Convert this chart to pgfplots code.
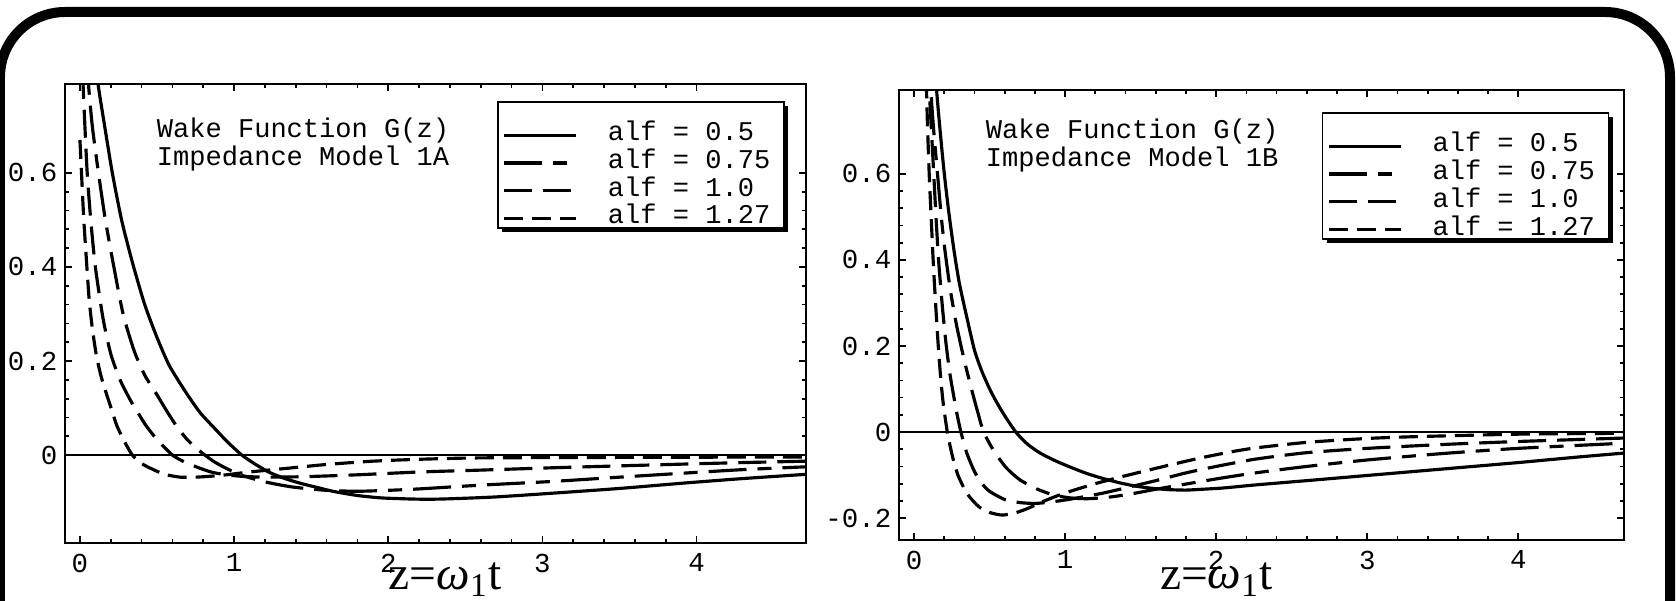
\documentclass[border=0pt]{standalone}
\usepackage{fontspec}
\setmainfont{Liberation Serif}
\setmonofont{Liberation Mono}
\usepackage{pgfplots}
\pgfplotsset{compat=1.18}
\usetikzlibrary{shadows}

\newcommand\cour{\fontsize{7.7}{8}\selectfont\ttfamily}
\newcommand\tickf{\fontsize{7.8}{8}\selectfont\ttfamily}
\newcommand\lent[1]{\makebox[17.0mm][l]{\raisebox{-1.2mm}[0pt][0pt]{#1}}}

\makeatletter
\tikzset{no preactions/.code={\let\tikz@preactions\pgfutil@empty}}
\makeatother

\tikzset{
  a05/.style={solid},
  a075/.style={dash pattern=on 3.8mm off 1.1mm on 1.4mm off 1.1mm},
  a10/.style={dash pattern=on 2.8mm off 1.1mm},
  a127/.style={dash pattern=on 1.9mm off 0.9mm},
}

\pgfplotsset{
  wake/.style={
    scale only axis,
    axis line style={line width=0.6pt},
    tick style={black, line width=0.5pt},
    major tick length=0.7mm, minor tick length=0.4mm,
    tick align=inside,
    xtick={0,1,2,3,4}, xticklabels={0,1,2,3,4},
    minor x tick num=4, minor y tick num=4,
    ticklabel style={font=\tickf, inner sep=0pt},
    xticklabel style={yshift=-1mm},
    yticklabel style={xshift=-0.7mm},
    xlabel style={font=\fontsize{13.5}{16}\selectfont, anchor=base},
    legend cell align=left,
    legend image code/.code={\path[no preactions, draw=none] (0mm,0mm) -- (7.2mm,0mm);
      \draw[no preactions, overlay, ##1] (0mm,-1.2mm) -- (7.2mm,-1.2mm);},
    legend style={anchor=north west, draw=black, line width=0.5pt, fill=white,
      inner xsep=0.6mm, inner ysep=0.75mm, font=\cour, row sep=0pt,
      nodes={inner sep=0pt, text height=1.95mm, text depth=0.82mm},
      /tikz/every odd column/.append style={column sep=3.2mm},
      drop shadow={shadow xshift=0.45mm, shadow yshift=-0.45mm, fill=black, opacity=1}},
    every axis plot/.append style={black, line width=0.9pt, smooth, tension=0.4},
  },
}

\begin{document}
\begin{tikzpicture}
\useasboundingbox (0,0) rectangle (16.76,6);
\begin{scope}
  \clip (0,0) rectangle (16.76,6);
  \draw[line width=1mm, rounded corners=6.5mm] (0,-1) rectangle (16.70,5.88);
\end{scope}

% Model 1A
\begin{axis}[wake, at={(0.65cm,0.57cm)}, anchor=south west,
    width=7.41cm, height=4.59cm,
    xmin=-0.097, xmax=4.71, ymin=-0.187, ymax=0.789,
    ytick={0,0.2,0.4,0.6}, yticklabels={0,0.2,0.4,0.6},
    xlabel={z=\textit{ω}\textsubscript{1}t},
    xlabel style={at={(axis description cs:0.513,0)}, yshift=-4.6mm},
    legend style={at={(axis description cs:0.583,0.963)}}]
\addplot[line width=0.6pt, forget plot, sharp plot] coordinates {(-0.2,0) (4.8,0)};
\addplot[a05] coordinates {
 (0.10,0.86) (0.117,0.79) (0.16,0.70) (0.21,0.60) (0.27,0.50) (0.34,0.41)
 (0.42,0.32) (0.50,0.25) (0.58,0.19) (0.69,0.132) (0.78,0.09) (0.87,0.058)
 (0.96,0.027) (1.05,0) (1.14,-0.02) (1.23,-0.037) (1.33,-0.05) (1.43,-0.06)
 (1.54,-0.069) (1.64,-0.077) (1.80,-0.086) (1.95,-0.091) (2.10,-0.093)
 (2.25,-0.094) (2.40,-0.093) (2.70,-0.089) (3.07,-0.081) (3.50,-0.071)
 (3.94,-0.059) (4.30,-0.05) (4.71,-0.041)};
\addlegendentry{\lent{alf = 0.5}}
\addplot[a075] coordinates {
 (0.035,0.90) (0.055,0.79) (0.08,0.70) (0.12,0.60) (0.165,0.50) (0.22,0.40)
 (0.28,0.30) (0.35,0.223) (0.42,0.17) (0.50,0.128) (0.57,0.09) (0.63,0.06)
 (0.69,0.035) (0.75,0.016) (0.81,0) (0.87,-0.014) (0.93,-0.025) (1.04,-0.042)
 (1.2,-0.057) (1.38,-0.068) (1.6,-0.075) (1.8,-0.077) (2.0,-0.075)
 (2.2,-0.072) (2.6,-0.064) (3.07,-0.056) (3.5,-0.047) (3.94,-0.038)
 (4.3,-0.031) (4.71,-0.025)};
\addlegendentry{\lent{alf = 0.75}}
\addplot[a10] coordinates {
 (0.008,0.90) (0.02,0.79) (0.032,0.70) (0.047,0.60) (0.07,0.50) (0.10,0.40)
 (0.15,0.29) (0.2,0.215) (0.26,0.160) (0.325,0.118) (0.38,0.088) (0.43,0.062)
 (0.5,0.033) (0.6,0) (0.68,-0.015) (0.77,-0.027) (0.85,-0.036) (0.93,-0.041)
 (1.04,-0.045) (1.2,-0.047) (1.45,-0.046) (1.8,-0.042) (2.2,-0.036)
 (2.6,-0.032) (3.07,-0.027) (3.5,-0.023) (3.94,-0.019) (4.3,-0.016)
 (4.71,-0.013)};
\addlegendentry{\lent{alf = 1.0}}
\addplot[a127] coordinates {
 (0,0.67) (0.01,0.60) (0.025,0.50) (0.045,0.40) (0.06,0.33) (0.08,0.27)
 (0.105,0.215) (0.135,0.17) (0.17,0.132) (0.205,0.097) (0.24,0.062)
 (0.29,0.028) (0.34,0) (0.40,-0.018) (0.47,-0.030) (0.55,-0.041)
 (0.65,-0.047) (0.75,-0.047) (0.85,-0.045) (0.95,-0.042) (1.1,-0.036)
 (1.35,-0.028) (1.6,-0.02) (1.9,-0.013) (2.2,-0.009) (2.6,-0.006)
 (3.5,-0.005) (4.71,-0.004)};
\addlegendentry{\lent{alf = 1.27}}
\node[font=\cour, align=left, anchor=west, inner sep=0pt]
  at (rel axis cs:0.123,0.869) {Wake Function G(z)\\Impedance Model 1A};
\end{axis}

% Model 1B
\begin{axis}[wake, at={(8.99cm,0.60cm)}, anchor=south west,
    width=7.25cm, height=4.50cm,
    xmin=-0.1, xmax=4.70, ymin=-0.251, ymax=0.795,
    ytick={-0.2,0,0.2,0.4,0.6}, yticklabels={-0.2,0,0.2,0.4,0.6},
    xlabel={z=\textit{ω}\textsubscript{1}t},
    xlabel style={at={(axis description cs:0.438,0)}, yshift=-4.9mm},
    legend style={at={(axis description cs:0.583,0.951)}}]
\addplot[line width=0.6pt, forget plot, sharp plot] coordinates {(-0.2,0) (4.8,0)};
\addplot[a05] coordinates {
 (0.13,0.90) (0.15,0.79) (0.175,0.69) (0.2,0.60) (0.23,0.51) (0.265,0.42)
 (0.3,0.345) (0.35,0.265) (0.40,0.19) (0.45,0.14) (0.51,0.093) (0.57,0.055)
 (0.62,0.027) (0.68,-0.003) (0.75,-0.028) (0.83,-0.048) (0.93,-0.066)
 (1.03,-0.081) (1.14,-0.096) (1.25,-0.108) (1.36,-0.118) (1.47,-0.126)
 (1.58,-0.131) (1.69,-0.134) (1.8,-0.135) (1.91,-0.133) (2.05,-0.13)
 (2.26,-0.123) (2.6,-0.113) (3.0,-0.101) (3.5,-0.086) (4.0,-0.071)
 (4.4,-0.058) (4.7,-0.049)};
\addlegendentry{\lent{alf = 0.5}}
\addplot[a075] coordinates {
 (0.095,0.95) (0.11,0.8) (0.13,0.7) (0.155,0.6) (0.18,0.5) (0.205,0.42)
 (0.24,0.33) (0.28,0.25) (0.33,0.17) (0.38,0.1) (0.42,0.048) (0.46,0)
 (0.53,-0.045) (0.61,-0.083) (0.7,-0.111) (0.81,-0.132) (0.92,-0.146)
 (1.03,-0.153) (1.15,-0.155) (1.3,-0.151) (1.45,-0.143) (1.6,-0.133)
 (1.75,-0.124) (2.0,-0.109) (2.26,-0.095) (2.6,-0.08) (3.0,-0.065)
 (3.5,-0.05) (4.0,-0.038) (4.7,-0.026)};
\addlegendentry{\lent{alf = 0.75}}
\addplot[a10] coordinates {
 (0.085,0.95) (0.1,0.8) (0.115,0.7) (0.13,0.6) (0.145,0.5) (0.162,0.4)
 (0.185,0.3) (0.21,0.21) (0.235,0.14) (0.26,0.088) (0.285,0.04) (0.31,0)
 (0.35,-0.05) (0.4,-0.092) (0.45,-0.12) (0.5,-0.138) (0.6,-0.157)
 (0.7,-0.164) (0.8,-0.166) (0.9,-0.163) (1.0,-0.158) (1.1,-0.152)
 (1.25,-0.142) (1.4,-0.130) (1.6,-0.113) (1.8,-0.095) (2.0,-0.08)
 (2.26,-0.063) (2.6,-0.048) (3.0,-0.038) (3.5,-0.029) (4.0,-0.022) (4.7,-0.014)};
\addlegendentry{\lent{alf = 1.0}}
\addplot[a127] coordinates {
 (0.07,0.95) (0.078,0.85) (0.088,0.72) (0.1,0.6) (0.113,0.5) (0.126,0.4)
 (0.142,0.3) (0.16,0.2) (0.175,0.13) (0.19,0.075) (0.205,0.035) (0.22,0)
 (0.24,-0.035) (0.26,-0.065) (0.29,-0.1) (0.33,-0.13) (0.37,-0.152)
 (0.43,-0.174) (0.5,-0.187) (0.58,-0.193) (0.66,-0.189) (0.75,-0.178)
 (0.85,-0.162) (0.95,-0.148) (1.05,-0.136) (1.2,-0.12) (1.35,-0.106)
 (1.5,-0.093) (1.7,-0.076) (1.9,-0.06) (2.1,-0.046) (2.26,-0.037)
 (2.6,-0.024) (3.0,-0.015) (3.3,-0.011) (4.0,-0.005) (4.7,-0.003)};
\addlegendentry{\lent{alf = 1.27}}
\node[font=\cour, align=left, anchor=west, inner sep=0pt]
  at (rel axis cs:0.119,0.876) {Wake Function G(z)\\Impedance Model 1B};
\end{axis}
\end{tikzpicture}
\end{document}
